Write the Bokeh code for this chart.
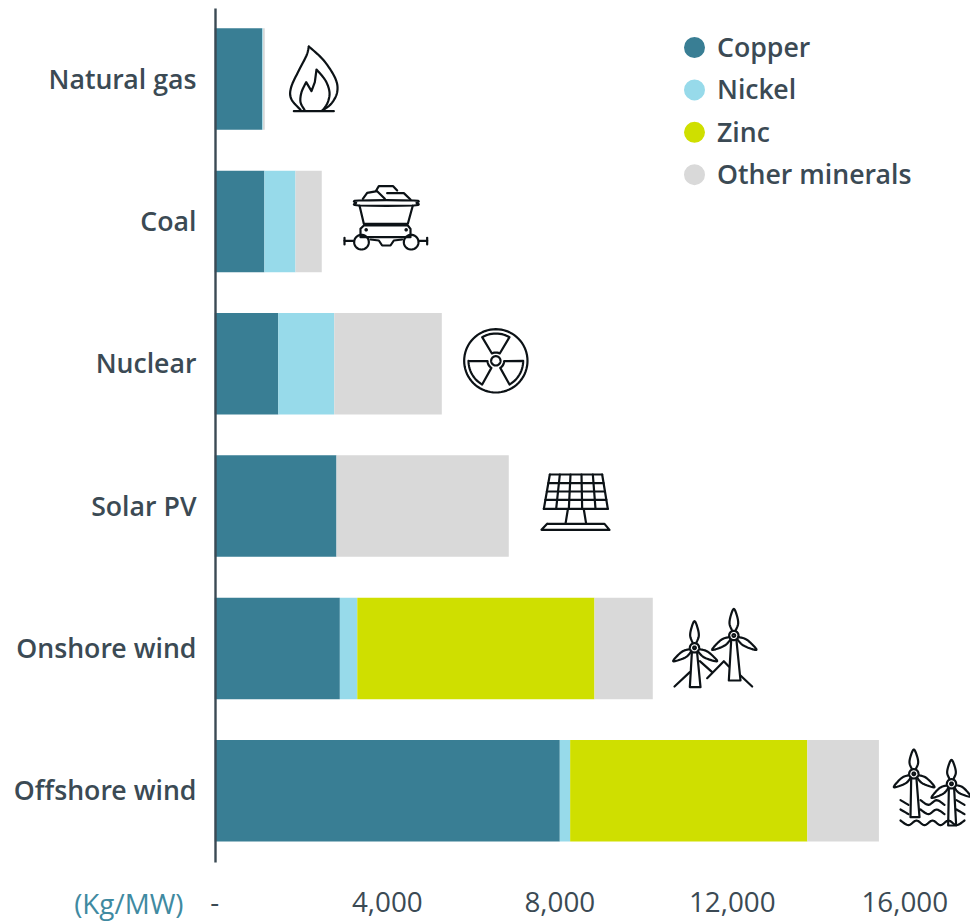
import math
from bokeh.plotting import figure
from bokeh.models import (ColumnDataSource, Range1d, FixedTicker)
from bokeh.core.properties import value
from bokeh.embed import file_html
from bokeh.resources import INLINE

categories = ["Natural gas", "Coal", "Nuclear", "Solar PV", "Onshore wind", "Offshore wind"]
copper = [1100, 1150, 1473, 2822, 2900, 8000]
nickel = [16, 721, 1297, 0, 404, 240]
zinc = [0, 0, 0, 0, 5500, 5500]
other = [43, 609, 2494, 3995, 1352, 1660]
series_names = ["Copper", "Nickel", "Zinc", "Other minerals"]
series_colors = ["#397E94", "#97DAEA", "#CFDF00", "#D9D9D9"]
x_ticks = [0, 4000, 8000, 12000, 16000]
x_tick_labels = ["-", "4,000", "8,000", "12,000", "16,000"]
unit_label = "(Kg/MW)"

TEXT = "#3B4A54"
FONT = "Open Sans"
SEMI = "Open Sans SemiBold"
SIZE = "26.7px"
REG_SIZE = "27.8px"

W, H = 970, 921
PX_PER_UNIT = 0.043125      # horizontal scale of the value axis
ZERO_X = 214.3              # canvas x of value 0
ROW_PX = 142.33             # height of one category band
ROW0_Y = 78.6               # canvas y of the first category's centre
AXIS_TOP, AXIS_BOTTOM = 8, 862

p = figure(frame_width=W, frame_height=H,
           x_range=Range1d(-ZERO_X / PX_PER_UNIT, (W - ZERO_X) / PX_PER_UNIT),
           y_range=Range1d((H - ROW0_Y) / ROW_PX, -ROW0_Y / ROW_PX),
           output_backend="svg", toolbar_location=None,
           min_border_left=0, min_border_right=0, min_border_top=0, min_border_bottom=0,
           background_fill_color=None, border_fill_color=None, outline_line_color=None)
p.extra_x_ranges = {"px": Range1d(0, W)}
p.extra_y_ranges = {"px": Range1d(H, 0)}
p.grid.visible = False

positions = list(range(len(categories)))
src = ColumnDataSource(dict(pos=positions, Copper=copper, Nickel=nickel, Zinc=zinc))
src.data["Other minerals"] = other
p.hbar_stack(series_names, y="pos", height=0.713, color=series_colors, line_color=None, source=src)

# axes
xa = p.xaxis[0]
xa.fixed_location = (AXIS_BOTTOM - ROW0_Y) / ROW_PX
xa.ticker = FixedTicker(ticks=x_ticks)
xa.major_label_overrides = dict(zip(x_ticks, x_tick_labels))
xa.axis_line_color = None
xa.major_tick_line_color = None
xa.minor_tick_line_color = None
xa.major_label_standoff = 23
xa.major_label_text_font = FONT
xa.major_label_text_font_size = REG_SIZE
xa.major_label_text_color = TEXT

label_shift = 0.006
ya = p.yaxis[0]
ya.fixed_location = (215 - ZERO_X) / PX_PER_UNIT
ya.bounds = ((AXIS_TOP - ROW0_Y) / ROW_PX, (AXIS_BOTTOM - ROW0_Y) / ROW_PX)
ya.ticker = FixedTicker(ticks=[i - label_shift for i in positions])
ya.major_label_overrides = {i - label_shift: c for i, c in zip(positions, categories)}
ya.axis_line_color = "#3B4A54"
ya.axis_line_width = 2.4
ya.major_tick_line_color = None
ya.minor_tick_line_color = None
ya.major_label_standoff = 13
ya.major_label_text_font = SEMI
ya.major_label_text_font_size = SIZE
ya.major_label_text_color = TEXT

p.text(x=[183], y=[902], text=[unit_label], x_range_name="px", y_range_name="px",
       text_align="right", text_baseline="middle", text_font=value(FONT),
       text_font_size=value(REG_SIZE), text_color="#3F8AA1")

# legend
legend_x = [694] * len(series_names)
legend_y = [47 + 42.4 * i for i in range(len(series_names))]
p.scatter(x=legend_x, y=legend_y, x_range_name="px", y_range_name="px", marker="circle", size=21,
          fill_color=series_colors, line_color=None)
p.text(x=[716.5] * len(series_names), y=[v - 1.2 for v in legend_y], text=series_names,
       x_range_name="px", y_range_name="px",
       text_align="left", text_baseline="middle", text_font=value(SEMI), text_font_size=value(SIZE),
       text_color=TEXT)


# ---------- icons, drawn in page pixels ----------
def smooth(pts, closed=False, n=8):
    out = []
    m = len(pts)
    rng = range(m) if closed else range(m - 1)
    for i in rng:
        if closed:
            a, b, c, d = pts[(i - 1) % m], pts[i], pts[(i + 1) % m], pts[(i + 2) % m]
        else:
            a, b, c, d = pts[max(i - 1, 0)], pts[i], pts[i + 1], pts[min(i + 2, m - 1)]
        for k in range(n):
            t = k / n
            out.append(tuple(0.5 * (2 * b[j] + (c[j] - a[j]) * t + (2 * a[j] - 5 * b[j] + 4 * c[j] - d[j]) * t * t
                                    + (3 * b[j] - a[j] - 3 * c[j] + d[j]) * t ** 3) for j in (0, 1)))
    out.append(pts[0] if closed else pts[-1])
    return out


def circle(cx, cy, r, a0=0, a1=360, n=48):
    return [(cx + r * math.cos(math.radians(a0 + (a1 - a0) * i / n)),
             cy - r * math.sin(math.radians(a0 + (a1 - a0) * i / n))) for i in range(n + 1)]


icon_xs, icon_ys = [], []


def add(pts, ox, oy):
    icon_xs.append([ox + q[0] / 3 for q in pts])
    icon_ys.append([oy + q[1] / 3 for q in pts])


# flame
O = (200, 20)
add([(280, 272), (400, 272)], *O)
add([(300, 268)] + smooth([(300, 268), (272, 235), (272, 200), (295, 150), (318, 105), (325, 78)])[1:], *O)
add(smooth([(325, 78), (370, 120), (405, 175), (410, 215), (392, 250), (365, 270)]), *O)
add(smooth([(312, 268), (300, 245), (303, 215), (317, 185)], n=5) + [(333, 212), (343, 185), (348, 147)]
    + smooth([(348, 147), (375, 180), (387, 215), (382, 245), (368, 268)], n=5)[1:], *O)
# coal cart
add(smooth([(475, 540), (640, 540), (648, 547), (640, 555), (475, 555), (467, 547)], closed=True, n=4), *O)
add([(477, 555), (490, 610), (622, 610), (637, 555)], *O)
add([(490, 615), (622, 615), (630, 625), (630, 650), (480, 650), (480, 625), (490, 615)], *O)
add(circle(497, 628, 2), *O)
add(circle(617, 628, 2), *O)
add(circle(483, 665, 22), *O)
add(circle(632, 665, 22), *O)
add([(432, 661), (458, 661)], *O)
add([(432, 652), (432, 672)], *O)
add([(656, 661), (680, 661)], *O)
add([(680, 652), (680, 672)], *O)
add([(510, 657), (535, 660), (545, 675), (570, 675), (580, 660), (605, 657)], *O)
add([(487, 535), (500, 517), (530, 512), (553, 535)], *O)
add([(527, 510), (535, 497), (578, 497), (590, 510)], *O)
add([(560, 518), (610, 518), (630, 537)], *O)

# radiation sign
O = (440, 310)
C = (166, 151)
add(circle(C[0], C[1], 95, n=72), *O)
add(circle(C[0], C[1], 14), *O)
for ang in (90, 210, 330):
    arc_o = circle(C[0], C[1], 82, ang - 30, ang + 30, n=14)
    arc_i = circle(C[0], C[1], 25, ang + 28, ang - 28, n=6)
    add(arc_o + arc_i + [arc_o[0]], *O)

# solar panel
top_x = [328, 358, 390, 423, 457, 485]
bot_x = [310, 347, 385, 425, 465, 502]
for a, b in zip(top_x, bot_x):
    add([(a, 492), (b, 595)], *O)
for yy in (492, 518, 543, 568, 595):
    t = (yy - 492) / 103
    add([(328 - 18 * t, yy), (485 + 17 * t, yy)], *O)
add([(382, 597), (375, 640)], *O)
add([(430, 597), (437, 640)], *O)
add([(320, 640), (492, 640), (507, 658), (303, 658), (320, 640)], *O)


# turbines
def blade(hub, tip, width, ox, oy):
    dx, dy = tip[0] - hub[0], tip[1] - hub[1]
    L = math.hypot(dx, dy)
    ux, uy = dx / L, dy / L
    vx, vy = -uy, ux
    prof = [(0.2, 0.45), (0.45, 1.0), (0.75, 0.7), (1.0, 0.0), (0.75, -0.7), (0.45, -1.0), (0.2, -0.45)]
    pts = [(hub[0] + ux * L * a + vx * width * b, hub[1] + uy * L * a + vy * width * b) for a, b in prof]
    add(smooth(pts, n=5), ox, oy)


def turbine(hub, top, left, right, tl, tr, base_y, ox, oy):
    blade(hub, top, 13, ox, oy)
    blade(hub, left, 10, ox, oy)
    blade(hub, right, 10, ox, oy)
    add(circle(hub[0], hub[1], 14), ox, oy)
    add(circle(hub[0], hub[1], 4), ox, oy)
    add([(hub[0] - 8, hub[1] + 16), (tl, base_y), (tr, base_y), (hub[0] + 8, hub[1] + 16)], ox, oy)


O = (660, 590)
turbine((102, 172), (102, 92), (38, 212), (170, 212), 88, 120, 290, *O)
turbine((220, 135), (220, 55), (155, 178), (288, 178), 205, 240, 270, *O)
add([(42, 288), (88, 245)], *O)
add([(118, 212), (155, 245)], *O)
add([(140, 263), (190, 212), (205, 228)], *O)
add([(240, 255), (275, 288)], *O)

turbine((760, 550), (760, 477), (700, 590), (822, 590), 750, 777, 680, *O)
turbine((873, 580), (873, 508), (813, 622), (930, 618), 863, 887, 705, *O)
for yy, segs in ((636, [(720, 744), (780, 860), (888, 912)]),
                 (664, [(720, 744), (780, 860), (888, 912)]),
                 (697, [(720, 912)])):
    for a, b in segs:
        pts = []
        x_ = a
        k = 0
        while x_ <= b:
            pts.append((x_, yy + (7 if k % 2 else -7)))
            x_ += 24
            k += 1
        add(smooth(pts, n=5), *O)

p.multi_line(icon_xs, icon_ys, x_range_name="px", y_range_name="px", line_color="#0c1216",
             line_width=2.2, line_cap="round", line_join="round")

open("out.html", "w").write(file_html(p, INLINE))
